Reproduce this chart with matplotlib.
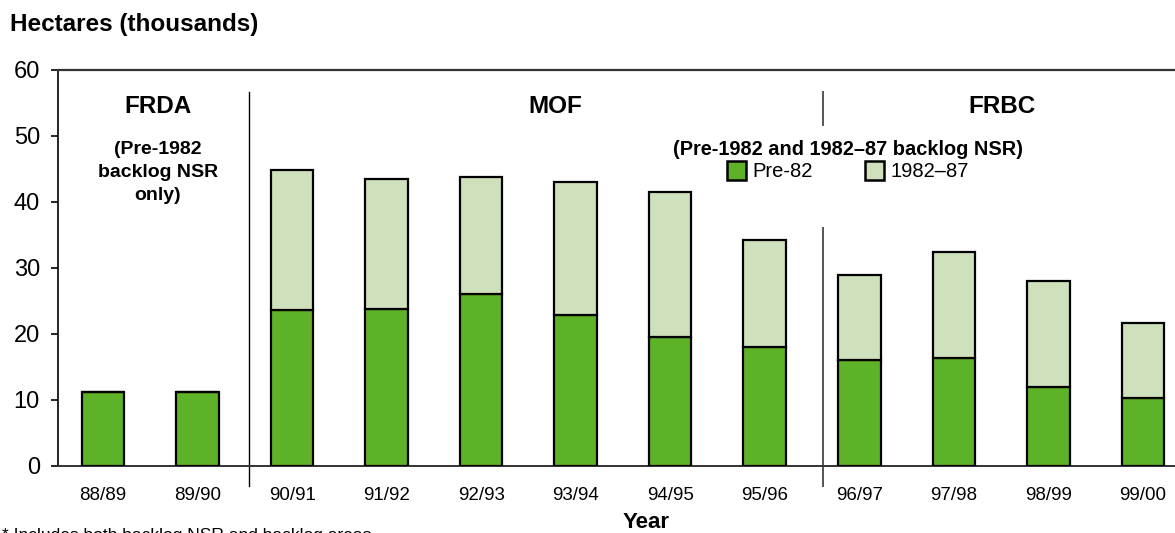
import matplotlib
matplotlib.use("Agg")
import matplotlib.pyplot as plt
from matplotlib.patches import Patch
import numpy as np

plt.rcParams["font.family"] = ["Liberation Sans", "DejaVu Sans"]

# Hectares (thousands) of backlog NSR treated per fiscal year
years = ["88/89", "89/90", "90/91", "91/92", "92/93", "93/94",
         "94/95", "95/96", "96/97", "97/98", "98/99", "99/00"]
pre82 = [11.2, 11.2, 23.6, 23.8, 26.1, 22.9, 19.5, 18.0, 16.1, 16.4, 12.0, 10.3]
backlog_8287 = [0.0, 0.0, 21.2, 19.7, 17.7, 20.1, 22.0, 16.2, 12.8, 16.0, 16.0, 11.4]

GREEN = "#5eb228"
LIGHT = "#cfe0bc"

fig = plt.figure(figsize=(11.75, 5.33), dpi=100)
ax = fig.add_axes([58 / 1175, 1 - 466 / 533, 1 - 58 / 1175, (466 - 70) / 533])

x = np.arange(len(years))
w = 0.45
ax.bar(x, pre82, width=w, color=GREEN, edgecolor="black", linewidth=1.6, zorder=3)
ax.bar(x, backlog_8287, width=w, bottom=pre82, color=LIGHT,
       edgecolor="black", linewidth=1.6, zorder=3)

ax.set_xlim(-0.476, 11.34)
ax.set_ylim(0, 60)
ax.set_yticks(range(0, 61, 10))
ax.set_xticks(x)
ax.set_xticklabels(years, fontsize=13.5)
ax.tick_params(axis="x", length=0, pad=15)
ax.tick_params(axis="y", labelsize=17, length=5, width=1.2, pad=8, direction="out")

ax.spines["right"].set_visible(False)
ax.spines["left"].set_linewidth(1.2)
ax.spines["top"].set_color("#333333")
ax.spines["top"].set_linewidth(1.6)
ax.spines["bottom"].set_color("#333333")
ax.spines["bottom"].set_linewidth(1.4)

# Agency period dividers
ax.plot([1.54, 1.54], [56.7, -3.0], color="black", lw=1.0, clip_on=False)
ax.plot([7.62, 7.62], [56.7, 51.7], color="#555555", lw=1.4, clip_on=False)
ax.plot([7.62, 7.62], [36.0, -3.0], color="#555555", lw=1.4, clip_on=False)

# Agency labels
ax.text(0.58, 54.5, "FRDA", ha="center", va="center", fontsize=17.5, fontweight="bold")
ax.text(0.58, 44.5, "(Pre-1982\nbacklog NSR\nonly)", ha="center", va="center",
        fontsize=14, fontweight="bold", linespacing=1.45)
ax.text(4.79, 54.5, "MOF", ha="center", va="center", fontsize=17.5, fontweight="bold")
ax.text(9.51, 54.5, "FRBC", ha="center", va="center", fontsize=17.5, fontweight="bold")
ax.text(7.88, 48.0, "(Pre-1982 and 1982\u201387 backlog NSR)", ha="center",
        va="center", fontsize=14.4, fontweight="bold")

handles = [Patch(facecolor=GREEN, edgecolor="black", linewidth=1.8, label="Pre-82"),
           Patch(facecolor=LIGHT, edgecolor="black", linewidth=1.8, label="1982\u201387")]
fig.legend(handles=handles, loc="center", bbox_to_anchor=(848 / 1175, 1 - 171 / 533),
           ncol=2, frameon=False, fontsize=14.5, handlelength=0.95, handleheight=1.05,
           handletextpad=0.3, columnspacing=2.6, borderpad=0)

fig.text(10 / 1175, 1 - 25 / 533, "Hectares (thousands)", ha="left", va="center",
         fontsize=17.5, fontweight="bold")
fig.text(646 / 1175, 1 - 523 / 533, "Year", ha="center", va="center",
         fontsize=16, fontweight="bold")
fig.text(2 / 1175, 1 - 528 / 533, "* Includes both backlog NSR and backlog areas",
         ha="left", va="top", fontsize=12.5)

fig.savefig("out.png", dpi=100)
